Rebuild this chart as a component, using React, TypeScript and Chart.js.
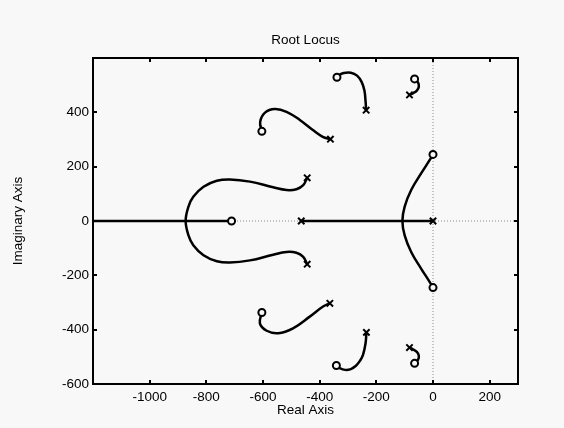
import React, { useEffect, useRef } from "react";
import { Chart, registerables } from "chart.js";

Chart.register(...registerables);

const X_MIN = -1200;
const X_MAX = 300;
const Y_MIN = -600;
const Y_MAX = 600;
const X_TICKS = [-1000, -800, -600, -400, -200, 0, 200];
const Y_TICKS = [-600, -400, -200, 0, 200, 400];

// dotted reference axes
const IMAG_REF = [[0, -600], [0, 600]];
const REAL_REF = [[-1200, 0], [300, 0]];

// real-axis locus segments
const REAL_SEG_LEFT = [[-1200, 0], [-711, 0]];
const REAL_SEG_RIGHT = [[-465, 0], [0, 0]];

// complex branches
const BRANCH_BIG = [
  [-444, 159], [-458, 132], [-482, 117], [-517, 114], [-564, 124], [-646, 145],
  [-717, 153], [-763, 148], [-810, 126], [-846, 89], [-863, 53], [-873, 0],
  [-863, -53], [-846, -89], [-810, -126], [-763, -148], [-717, -153], [-646, -145],
  [-564, -124], [-517, -114], [-482, -117], [-458, -132], [-444, -159],
];
const BRANCH_RIGHT = [
  [0, 245], [-12, 224], [-42, 175], [-77, 114], [-100, 53], [-108, 0],
  [-100, -53], [-77, -114], [-42, -175], [-12, -224], [0, -245],
];
const BRANCH_UL = [
  [-362, 301], [-389, 310], [-424, 335], [-470, 372], [-517, 402], [-558, 412],
  [-593, 399], [-610, 365], [-604, 330],
];
const BRANCH_LL = [
  [-364, -303], [-388, -315], [-435, -352], [-494, -395], [-546, -413], [-587, -404],
  [-611, -377], [-604, -337],
];
const BRANCH_UM = [
  [-236, 408], [-238, 440], [-242, 480], [-252, 512], [-268, 535], [-290, 546],
  [-315, 545], [-332, 537], [-339, 529],
];
const BRANCH_LM = [
  [-235, -410], [-238, -450], [-247, -493], [-258, -515], [-272, -533], [-290, -545],
  [-310, -548], [-330, -541], [-341, -532],
];
const BRANCH_US = [[-83, 464], [-71, 470], [-57, 480], [-50, 494], [-53, 510], [-65, 523]];
const BRANCH_LS = [[-83, -466], [-71, -472], [-57, -482], [-50, -496], [-53, -511], [-65, -524]];

const POLES = [
  [0, 0], [-465, 0], [-444, 159], [-444, -159], [-362, 301], [-364, -303],
  [-236, 408], [-235, -410], [-83, 464], [-83, -466],
];
const ZEROS = [
  [-711, 0], [0, 245], [0, -245], [-604, 330], [-604, -337], [-339, 529],
  [-341, -532], [-65, 523], [-65, -524],
];

const BG = "#f8f8f8";
const FONT_FAMILY = '"Liberation Sans", Arial, sans-serif';
const FONT_SIZE = 13.5;

const toPts = (a: number[][]) => a.map(([x, y]) => ({ x, y }));

export default function App() {
  const ref = useRef<HTMLCanvasElement | null>(null);

  useEffect(() => {
    if (!ref.current) return;
    document.body.style.background = BG;
    const font = { family: FONT_FAMILY, size: FONT_SIZE };

    const lineDs = (data: number[][], tension: number) => ({
      data: toPts(data),
      showLine: true,
      borderColor: "#000",
      borderWidth: 2.5,
      pointRadius: 0,
      tension,
      fill: false,
      order: 5,
    });

    const branches = [
      BRANCH_BIG, BRANCH_RIGHT, BRANCH_UL, BRANCH_LL, BRANCH_UM, BRANCH_LM, BRANCH_US, BRANCH_LS,
    ];

    const framePlugin = {
      id: "frame",
      afterDraw(chart: any) {
        const { ctx, chartArea } = chart;
        const { left, right, top, bottom } = chartArea;
        const xs = chart.scales.x;
        const ys = chart.scales.y;
        ctx.save();
        ctx.strokeStyle = "#000";
        ctx.lineWidth = 2;
        ctx.strokeRect(left, top, right - left, bottom - top);
        ctx.beginPath();
        X_TICKS.forEach((v) => {
          const px = Math.round(xs.getPixelForValue(v));
          ctx.moveTo(px, bottom);
          ctx.lineTo(px, bottom - 4);
          ctx.moveTo(px, top);
          ctx.lineTo(px, top + 4);
        });
        Y_TICKS.forEach((v) => {
          const py = Math.round(ys.getPixelForValue(v));
          ctx.moveTo(left, py);
          ctx.lineTo(left + 4, py);
          ctx.moveTo(right, py);
          ctx.lineTo(right - 4, py);
        });
        ctx.stroke();
        ctx.fillStyle = "#000";
        ctx.font = `${FONT_SIZE}px ${FONT_FAMILY}`;
        ctx.textAlign = "center";
        ctx.textBaseline = "middle";
        ctx.fillText("Root Locus", (left + right) / 2, 40);
        ctx.restore();
      },
    };

    const chart = new Chart(ref.current, {
      type: "scatter",
      data: {
        datasets: [
          {
            data: toPts(POLES),
            showLine: false,
            pointStyle: "crossRot",
            pointRadius: 4.5,
            borderColor: "#000",
            borderWidth: 2,
            backgroundColor: "transparent",
            order: 0,
          } as any,
          {
            data: toPts(ZEROS),
            showLine: false,
            pointStyle: "circle",
            pointRadius: 3.5,
            borderColor: "#000",
            borderWidth: 2,
            backgroundColor: BG,
            order: 1,
          },
          lineDs(REAL_SEG_LEFT, 0),
          lineDs(REAL_SEG_RIGHT, 0),
          ...branches.map((b) => lineDs(b, 0.4)),
          {
            data: toPts(IMAG_REF),
            showLine: true,
            borderColor: "#8a8a8a",
            borderWidth: 1,
            borderDash: [1, 2],
            pointRadius: 0,
            order: 10,
          },
          {
            data: toPts(REAL_REF),
            showLine: true,
            borderColor: "#8a8a8a",
            borderWidth: 1,
            borderDash: [1, 2],
            pointRadius: 0,
            order: 10,
          },
        ] as any,
      },
      options: {
        animation: false,
        responsive: false,
        events: [],
        layout: { padding: { top: 58, right: 46, left: 0, bottom: 0 } },
        plugins: {
          legend: { display: false },
          tooltip: { enabled: false },
          title: { display: false },
        },
        scales: {
          x: {
            type: "linear",
            min: X_MIN,
            max: X_MAX,
            afterBuildTicks: (s: any) => {
              s.ticks = X_TICKS.map((v) => ({ value: v }));
            },
            afterFit: (s: any) => {
              s.height = 44;
            },
            grid: { display: false, drawTicks: false },
            border: { display: false },
            ticks: {
              color: "#000",
              font,
              padding: 5,
              maxRotation: 0,
              autoSkip: false,
              callback: (v: any) => String(v),
            },
            title: {
              display: true,
              text: "Real Axis",
              color: "#000",
              font,
              padding: { top: 0, bottom: 10 },
            },
          },
          y: {
            type: "linear",
            min: Y_MIN,
            max: Y_MAX,
            afterBuildTicks: (s: any) => {
              s.ticks = Y_TICKS.map((v) => ({ value: v }));
            },
            afterFit: (s: any) => {
              s.width = 93;
            },
            grid: { display: false, drawTicks: false },
            border: { display: false },
            ticks: {
              color: "#000",
              font,
              padding: 4,
              autoSkip: false,
              callback: (v: any) => String(v),
            },
            title: {
              display: true,
              text: "Imaginary Axis",
              color: "#000",
              font,
              padding: { top: 10, bottom: 0 },
            },
          },
        },
      } as any,
      plugins: [framePlugin],
    });

    return () => chart.destroy();
  }, []);

  return (
    <div style={{ position: "absolute", left: 0, top: 0, width: 564, height: 428, background: BG }}>
      <canvas ref={ref} width={564} height={428} style={{ display: "block" }} />
    </div>
  );
}
